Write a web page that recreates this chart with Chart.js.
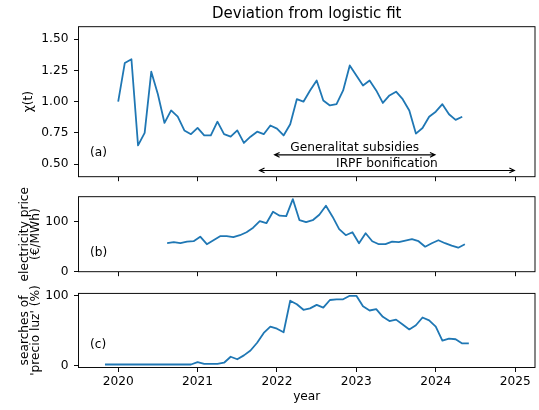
<!DOCTYPE html>
<html>
<head>
<meta charset="utf-8">
<script src="https://cdn.jsdelivr.net/npm/chart.js@4/dist/chart.umd.min.js"></script>
<style>
  html, body { margin: 0; padding: 0; background: #ffffff; }
  canvas { position: absolute; left: 0; top: 0; }
</style>
</head>
<body>
<canvas id="c1" width="539" height="410"></canvas>
<canvas id="c2" width="539" height="410"></canvas>
<canvas id="c3" width="539" height="410"></canvas>
<script>
// ---------------- data ----------------
const yearTicks = [2020, 2021, 2022, 2023, 2024, 2025];
const xRange = [2019.5, 2025.25];

// (a) deviation from logistic fit, monthly from Jan 2020
const chiStartYear = 2020 + 0 / 12;
const chiValues = [
  1.00, 1.31, 1.34, 0.65, 0.75, 1.24, 1.06, 0.83, 0.93, 0.88, 0.77, 0.74,
  0.79, 0.73, 0.73, 0.84, 0.74, 0.72, 0.77, 0.67, 0.72, 0.76, 0.74, 0.81,
  0.785, 0.73, 0.82, 1.02, 1.00, 1.09, 1.17, 1.01, 0.97, 0.98, 1.09, 1.29,
  1.21, 1.13, 1.17, 1.09, 0.99, 1.05, 1.08, 1.02, 0.93, 0.745, 0.79, 0.88,
  0.92, 0.98, 0.90, 0.855, 0.88
];
const chiTicks = [0.5, 0.75, 1.0, 1.25, 1.5];
const chiRange = [0.4, 1.6];

// (b) electricity price (€/MWh), monthly (mid-month) from Aug 2020
const priceStartYear = 2020 + 7.4 / 12;
const priceValues = [
  57, 59, 57, 60, 61, 70, 55, 63, 71, 71, 69, 73, 79, 88, 101, 97, 120, 112,
  111, 145, 103, 99, 103, 114, 132, 110, 85, 73, 79, 57, 77, 61, 55, 55, 60,
  59, 62, 65, 61, 50, 57, 63, 57, 52, 48, 55
];
const priceTicks = [0, 100];
const priceRange = [0, 150];

// (c) searches of 'precio luz' (%), monthly from Nov 2019
const searchStartYear = 2019 + 10 / 12;
const searchValues = [
  2, 2, 2, 2, 2, 2, 2, 2, 2, 2, 2, 2, 2, 2,
  5.5, 3, 3, 3, 4.5, 13, 9.5, 15, 22, 33, 47, 56,
  53, 48, 93, 88, 80, 82, 87, 83, 94, 95, 95, 100,
  100, 85, 79, 81, 70, 64, 66, 59, 52, 58, 69, 65,
  56, 36, 39, 38, 32, 32
];
const searchTicks = [0, 100];
const searchRange = [-2.3, 103.4];

// annotations (data coordinates of panel a)
const subsidyArrow = { from: 2021.97, to: 2023.99, y: 0.575, text: 'Generalitat subsidies' };
const irpfArrow = { from: 2021.78, to: 2024.99, y: 0.45, text: 'IRPF bonification' };

const titleText = 'Deviation from logistic fit';
const chiLabel = 'χ(t)';
const priceLabel = ['electricity price', '(€/MWh)'];
const searchLabel = ['searches of', "'precio luz' (%)"];
const xLabel = 'year';

// ---------------- styling ----------------
const FONT = 'DejaVu Sans';
const FS = 12.2;
const LINE = '#1f77b4';
const INK = '#000000';
const SPINE_W = 0.95;
const TICK_LEN = 4.5;

function series(start, values) {
  return values.map((v, i) => ({ x: start + i / 12, y: v }));
}

const extrasPlugin = {
  id: 'extras',
  afterDraw(chart, args, opts) {
    const ctx = chart.ctx;
    const a = chart.chartArea;
    ctx.save();
    // frame (spines)
    ctx.strokeStyle = INK;
    ctx.lineWidth = SPINE_W;
    ctx.strokeRect(a.left, a.top, a.right - a.left, a.bottom - a.top);
    ctx.fillStyle = INK;
    ctx.font = FS + 'px "' + FONT + '"';
    // panel label
    if (opts.panel) {
      ctx.textAlign = 'left';
      ctx.textBaseline = 'alphabetic';
      ctx.fillText(opts.panel, a.left + 11.5, a.bottom - opts.panelOffset);
    }
    // title
    if (opts.title) {
      ctx.font = '15px "' + FONT + '"';
      ctx.textAlign = 'center';
      ctx.textBaseline = 'alphabetic';
      ctx.fillText(opts.title, (a.left + a.right) / 2, a.top - 8.3);
      ctx.font = FS + 'px "' + FONT + '"';
    }
    // arrows
    (opts.arrows || []).forEach(ar => {
      const xs = chart.scales.x, ys = chart.scales.y;
      const x1 = xs.getPixelForValue(ar.from);
      const x2 = xs.getPixelForValue(ar.to);
      const y = ys.getPixelForValue(ar.y);
      ctx.strokeStyle = INK;
      ctx.lineWidth = 1.15;
      ctx.beginPath();
      ctx.moveTo(x1, y); ctx.lineTo(x2, y);
      // heads
      const hl = 5, hw = 2.4;
      ctx.moveTo(x1 + hl, y - hw); ctx.lineTo(x1, y); ctx.lineTo(x1 + hl, y + hw);
      ctx.moveTo(x2 - hl, y - hw); ctx.lineTo(x2, y); ctx.lineTo(x2 - hl, y + hw);
      ctx.stroke();
      ctx.textAlign = 'center';
      ctx.textBaseline = 'alphabetic';
      ctx.fillText(ar.text, (x1 + x2) / 2, y - 3.6);
    });
    ctx.restore();
  }
};

function makeChart(id, cfg) {
  const isBottom = !!cfg.bottom;
  return new Chart(document.getElementById(id), {
    type: 'line',
    data: {
      datasets: [{
        data: cfg.points,
        borderColor: LINE,
        backgroundColor: LINE,
        borderWidth: 1.8,
        borderJoinStyle: 'round',
        pointRadius: 0,
        tension: 0,
        fill: false
      }]
    },
    options: {
      responsive: false,
      animation: false,
      devicePixelRatio: 1,
      events: [],
      layout: { padding: cfg.padding },
      plugins: {
        legend: { display: false },
        tooltip: { enabled: false },
        title: { display: false },
        extras: cfg.extras
      },
      scales: {
        x: {
          type: 'linear',
          min: xRange[0],
          max: xRange[1],
          afterBuildTicks: s => { s.ticks = yearTicks.map(v => ({ value: v })); },
          afterFit: s => { s.height = cfg.xHeight; },
          border: { display: false },
          grid: {
            display: true, drawOnChartArea: false, drawTicks: true,
            tickLength: TICK_LEN, color: INK, tickColor: INK, lineWidth: SPINE_W
          },
          ticks: {
            display: isBottom, color: INK, padding: 3, maxRotation: 0,
            font: { family: FONT, size: FS },
            callback: v => String(v)
          },
          title: {
            display: isBottom, text: xLabel, color: INK,
            font: { family: FONT, size: FS, lineHeight: 1.15 },
            padding: { top: 0, bottom: 6 }
          }
        },
        y: {
          type: 'linear',
          min: cfg.range[0],
          max: cfg.range[1],
          afterBuildTicks: s => { s.ticks = cfg.ticks.map(v => ({ value: v })); },
          afterFit: s => { s.width = 78.5; },
          border: { display: false },
          grid: {
            display: true, drawOnChartArea: false, drawTicks: true,
            tickLength: TICK_LEN, color: INK, tickColor: INK, lineWidth: SPINE_W
          },
          ticks: {
            color: INK, padding: 5.5,
            font: { family: FONT, size: FS },
            callback: cfg.fmt
          },
          title: {
            display: true, text: cfg.label, color: INK,
            font: { family: FONT, size: FS, lineHeight: 11.5 / FS },
            padding: { top: cfg.titlePad, bottom: 0 }
          }
        }
      }
    },
    plugins: [extrasPlugin]
  });
}

// panel (a)
makeChart('c1', {
  points: series(chiStartYear, chiValues),
  range: chiRange, ticks: chiTicks, fmt: v => v.toFixed(2),
  label: chiLabel, titlePad: 23.1,
  padding: { top: 26.7, bottom: 410 - 176.7 - 5, left: 0, right: 4 },
  xHeight: 5,
  extras: { panel: '(a)', panelOffset: 21.2, title: titleText, arrows: [subsidyArrow, irpfArrow] }
});

// panel (b)
makeChart('c2', {
  points: series(priceStartYear, priceValues),
  range: priceRange, ticks: priceTicks, fmt: v => String(v),
  label: priceLabel, titlePad: 18.85,
  padding: { top: 196.7, bottom: 410 - 271.7 - 5, left: 0, right: 4 },
  xHeight: 5,
  extras: { panel: '(b)', panelOffset: 16.2 }
});

// panel (c)
makeChart('c3', {
  points: series(searchStartYear, searchValues),
  range: searchRange, ticks: searchTicks, fmt: v => String(v),
  label: searchLabel, titlePad: 18.85,
  padding: { top: 293.4, bottom: 410 - 367.5 - 42, left: 0, right: 4 },
  xHeight: 42, bottom: true,
  extras: { panel: '(c)', panelOffset: 19.7 }
});
</script>
</body>
</html>
